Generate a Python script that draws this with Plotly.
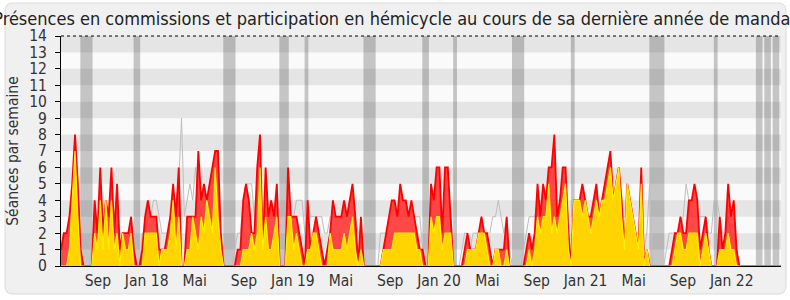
import pandas as pd
import plotly.graph_objects as go

# ---------------- data ----------------
start_date = "2017-06-01"

# red area: total weekly sessions (commissions + hemicycle)
seances_total = [
    1, 2, 2, 3, 5, 8, 5, 1, 0, 0,
    0, 0, 4, 2, 6, 2, 4, 3, 6, 2,
    5, 1, 2, 2, 2, 3, 1, 0, 0, 1,
    3, 4, 3, 3, 3, 1, 1, 1, 2, 3,
    5, 3, 6, 0, 0, 3, 3, 3, 3, 7,
    4, 5, 4, 5, 6, 7, 7, 2, 0, 0,
    0, 0, 0, 1, 1, 4, 5, 4, 2, 2,
    6, 8, 1, 6, 3, 4, 3, 5, 0, 0,
    0, 6, 3, 3, 3, 2, 1, 0, 4, 1,
    2, 3, 2, 1, 0, 1, 2, 4, 3, 3,
    3, 4, 3, 4, 5, 3, 0, 3, 0, 0,
    0, 0, 0, 0, 0, 1, 2, 3, 4, 4,
    3, 5, 4, 4, 3, 4, 3, 2, 1, 1,
    0, 0, 5, 4, 6, 6, 2, 6, 6, 3,
    0, 0, 0, 0, 1, 2, 1, 1, 1, 2,
    3, 2, 2, 1, 0, 1, 1, 1, 1, 3,
    0, 0, 0, 0, 0, 0, 1, 2, 1, 2,
    5, 3, 5, 4, 6, 6, 8, 3, 4, 6,
    6, 2, 0, 4, 4, 4, 5, 4, 3, 3,
    4, 5, 3, 4, 5, 6, 7, 4, 5, 6,
    4, 1, 5, 4, 3, 2, 1, 6, 0, 1,
    0, 0, 0, 0, 0, 0, 0, 0, 1, 2,
    2, 3, 2, 2, 4, 4, 5, 4, 1, 2,
    3, 1, 0, 0, 0, 3, 1, 2, 5, 3,
    4, 1, 0, 0, 0, 0, 0, 0, 0, 0,
    0, 0, 0, 0, 0, 0, 0, 0,
]

# yellow area: hemicycle participation
seances_hemicycle = [
    0, 0, 0, 1, 4, 7, 3, 0, 0, 0,
    0, 0, 2, 1, 4, 1, 4, 1, 4, 1,
    2, 0, 2, 1, 1, 2, 0, 0, 0, 0,
    2, 2, 2, 2, 2, 0, 1, 1, 1, 2,
    4, 1, 3, 0, 0, 1, 1, 3, 2, 1,
    3, 2, 4, 3, 2, 6, 3, 1, 0, 0,
    0, 0, 0, 0, 0, 1, 1, 1, 2, 1,
    2, 6, 1, 3, 1, 1, 2, 3, 0, 0,
    0, 3, 3, 1, 2, 1, 0, 0, 1, 1,
    2, 2, 1, 0, 0, 0, 2, 1, 1, 1,
    1, 2, 1, 2, 3, 1, 0, 1, 0, 0,
    0, 0, 0, 0, 0, 1, 1, 1, 1, 2,
    2, 2, 2, 2, 2, 2, 2, 1, 1, 0,
    0, 0, 3, 2, 3, 3, 1, 2, 2, 2,
    0, 0, 0, 0, 0, 1, 1, 1, 1, 2,
    2, 2, 1, 0, 0, 1, 1, 0, 0, 1,
    0, 0, 0, 0, 0, 0, 0, 1, 0, 1,
    3, 2, 3, 3, 5, 2, 3, 2, 3, 4,
    5, 1, 0, 4, 4, 4, 3, 4, 3, 2,
    3, 4, 3, 4, 4, 5, 6, 4, 5, 6,
    3, 1, 5, 4, 3, 2, 1, 5, 0, 1,
    0, 0, 0, 0, 0, 0, 0, 0, 0, 1,
    2, 2, 1, 1, 2, 2, 2, 2, 0, 1,
    2, 1, 0, 0, 0, 1, 1, 1, 2, 1,
    1, 0, 0, 0, 0, 0, 0, 0, 0, 0,
    0, 0, 0, 0, 0, 0, 0, 0,
]

# grey line: median deputy
mediane = [
    1, 1, 1, 2, 3, 4, 3, 1, 0, 0,
    0, 1, 3, 2, 3, 3, 3, 3, 3, 3,
    4, 2, 2, 2, 2, 2, 1, 0, 0, 2,
    2, 3, 3, 4, 4, 3, 2, 2, 2, 3,
    3, 4, 5, 9, 3, 4, 5, 4, 6, 4,
    3, 3, 3, 3, 3, 3, 3, 2, 0, 0,
    0, 0, 1, 2, 2, 4, 5, 5, 5, 3,
    3, 3, 3, 3, 3, 4, 3, 3, 1, 0,
    0, 2, 3, 3, 4, 4, 4, 2, 4, 3,
    3, 3, 3, 3, 2, 2, 3, 3, 3, 3,
    3, 3, 3, 4, 4, 3, 2, 2, 1, 0,
    0, 0, 0, 0, 2, 2, 2, 3, 3, 4,
    3, 3, 3, 3, 3, 3, 3, 3, 3, 1,
    0, 0, 3, 3, 3, 3, 3, 3, 3, 3,
    1, 0, 0, 1, 2, 2, 1, 2, 2, 2,
    2, 2, 2, 2, 3, 3, 4, 3, 2, 3,
    1, 0, 0, 0, 0, 1, 2, 3, 3, 3,
    4, 4, 3, 4, 4, 4, 4, 4, 4, 4,
    4, 3, 0, 3, 3, 3, 3, 3, 3, 3,
    3, 3, 3, 3, 3, 3, 3, 3, 3, 3,
    3, 3, 3, 3, 3, 2, 2, 2, 1, 2,
    5, 0, 0, 0, 0, 0, 1, 2, 2, 2,
    2, 2, 3, 5, 4, 3, 3, 3, 3, 3,
    3, 2, 2, 4, 4, 3, 2, 2, 3, 2,
    2, 1, 0, 0, 0, 0, 0, 0, 0, 0,
    0, 0, 0, 0, 0, 0, 0, 0,
]

# weeks without parliamentary sessions (index of the week)
vacances = [7, 8, 9, 10, 26, 27, 58, 59, 60, 61, 78, 79, 80, 87,
            108, 109, 110, 111, 129, 130, 140, 161, 162, 163, 164, 182,
            210, 211, 212, 213, 214, 233, 248, 249, 251, 252, 254, 255]

tick_dates = ["2017-09-01", "2018-01-01", "2018-05-01", "2018-09-01", "2019-01-01",
              "2019-05-01", "2019-09-01", "2020-01-01", "2020-05-01", "2020-09-01",
              "2021-01-01", "2021-05-01", "2021-09-01", "2022-01-01"]
tick_labels = ["Sep", "Jan 18", "Mai", "Sep", "Jan 19", "Mai", "Sep", "Jan 20",
               "Mai", "Sep", "Jan 21", "Mai", "Sep", "Jan 22"]

title_text = ("Présences en commissions et participation en hémicycle "
              "au cours de sa dernière année de mandat")
y_title = "Séances par semaine"

# ---------------- figure ----------------
n = len(seances_total)
weeks = pd.date_range(start_date, periods=n, freq="7D")
wk = pd.Timedelta(days=7)
x_start = pd.Timestamp(start_date)
x_end = x_start + pd.Timedelta(days=1798)

FONT = "DejaVu Sans Condensed, DejaVu Sans, sans-serif"

fig = go.Figure()
fig.add_trace(go.Scatter(x=weeks, y=mediane, mode="lines",
                         line=dict(color="rgb(190,190,190)", width=1),
                         hoverinfo="skip"))
fig.add_trace(go.Scatter(x=weeks, y=seances_total, mode="lines", fill="tozeroy",
                         fillcolor="rgba(255,40,40,0.85)",
                         line=dict(color="rgb(255,0,0)", width=1.8),
                         hoverinfo="skip"))
fig.add_trace(go.Scatter(x=weeks, y=seances_hemicycle, mode="lines", fill="tozeroy",
                         fillcolor="rgb(255,212,0)",
                         line=dict(color="rgb(255,240,0)", width=1.2),
                         hoverinfo="skip"))

W, H = 790, 300
ML, MR, MT, MB = 61, 9, 36, 34
PW, PH = W - ML - MR, H - MT - MB


def px(x):
    return (x - ML) / PW


def py(y):
    return (H - MB - y) / PH


shapes = []
# card with rounded corners
x0, y0, x1, y1, r = 5, 3, 786, 294, 8
card = (f"M {px(x0 + r)},{py(y0)} L {px(x1 - r)},{py(y0)} "
        f"Q {px(x1)},{py(y0)} {px(x1)},{py(y0 + r)} L {px(x1)},{py(y1 - r)} "
        f"Q {px(x1)},{py(y1)} {px(x1 - r)},{py(y1)} L {px(x0 + r)},{py(y1)} "
        f"Q {px(x0)},{py(y1)} {px(x0)},{py(y1 - r)} L {px(x0)},{py(y0 + r)} "
        f"Q {px(x0)},{py(y0)} {px(x0 + r)},{py(y0)} Z")
shapes.append(dict(type="path", path=card, xref="paper", yref="paper",
                   fillcolor="rgb(240,240,240)", line=dict(color="rgb(218,218,218)", width=1),
                   layer="below"))
# plot area background
shapes.append(dict(type="rect", xref="paper", yref="paper", x0=0, x1=1, y0=0, y1=1,
                   fillcolor="rgb(250,250,250)", line=dict(width=0), layer="below"))
# horizontal stripes
for k in range(1, 14, 2):
    shapes.append(dict(type="rect", xref="paper", yref="y", x0=0, x1=1, y0=k, y1=k + 1,
                       fillcolor="rgb(229,229,229)", line=dict(width=0), layer="below"))
# vacation bands
groups = []
for w in vacances:
    if groups and w == groups[-1][1] + 1:
        groups[-1][1] = w
    else:
        groups.append([w, w])
for a, b in groups:
    shapes.append(dict(type="rect", xref="x", yref="paper",
                       x0=weeks[a] - 0.1 * wk, x1=weeks[b] + 1.25 * wk, y0=0, y1=1,
                       fillcolor="rgba(60,60,60,0.28)", line=dict(width=0), layer="below"))
# dotted top line
shapes.append(dict(type="line", xref="paper", yref="paper", x0=0, x1=1, y0=1, y1=1,
                   line=dict(color="black", width=1, dash="dot"), layer="above"))

fig.update_layout(
    width=W, height=H,
    margin=dict(l=ML, r=MR, t=MT, b=MB, pad=0),
    paper_bgcolor="white",
    plot_bgcolor="rgb(250,250,250)",
    showlegend=False,
    shapes=shapes,
    font=dict(family=FONT, size=15.5, color="#333"),
    title=dict(text=title_text, x=0.5, xref="container", xanchor="center",
               y=1 - 18.5 / H, yref="container", yanchor="middle",
               font=dict(family=FONT, size=18.0, color="#222")),
    xaxis=dict(type="date", range=[x_start, x_end], tickmode="array",
               tickvals=tick_dates, ticktext=tick_labels, showgrid=False,
               zeroline=False, showline=True, linecolor="black", linewidth=1,
               ticks="", tickfont=dict(size=15.5, color="#333")),
    yaxis=dict(range=[0, 14], dtick=1, tick0=0, showgrid=False, zeroline=False,
               showline=True, linecolor="black", linewidth=1, ticks="outside",
               ticklen=5, tickcolor="black", ticklabelstandoff=5,
               tickfont=dict(size=15.5, color="#333"),
               title=dict(text=y_title, standoff=6, font=dict(size=15.5, color="#333"))),
)

fig.write_html("out.html")
